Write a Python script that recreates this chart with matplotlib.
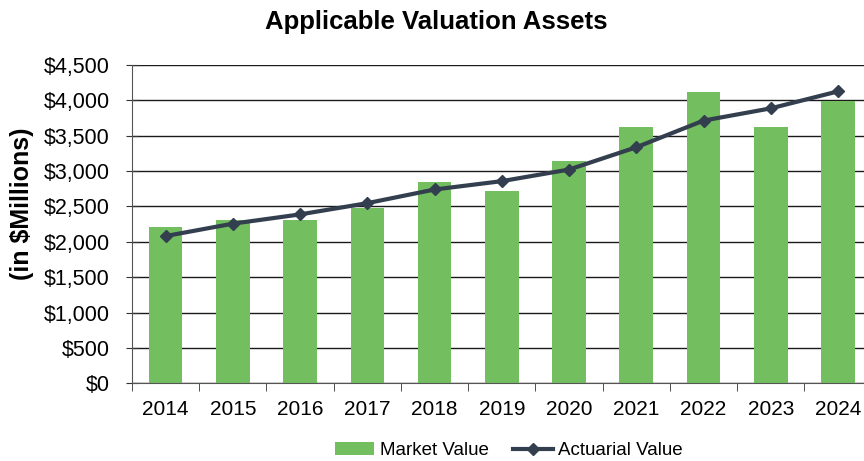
import numpy as np
import matplotlib.pyplot as plt
from matplotlib.ticker import FuncFormatter, FixedLocator

plt.rcParams['font.family'] = ['Liberation Sans', 'DejaVu Sans']

years = ['2014', '2015', '2016', '2017', '2018', '2019', '2020', '2021', '2022', '2023', '2024']
market_value = [2204, 2313, 2313, 2477, 2849, 2712, 3145, 3630, 4113, 3619, 3996]
actuarial_value = [2082, 2257, 2388, 2547, 2740, 2858, 3022, 3337, 3714, 3887, 4127]

fig = plt.figure(figsize=(8.64, 4.61), dpi=100)
ax = fig.add_axes([0.1528, 0.1685, 0.856, 0.6905])

x = np.arange(len(years))
bars = ax.bar(x, market_value, width=0.5, color='#73BE5F', label='Market Value', zorder=2)
line, = ax.plot(x, actuarial_value, color='#333F4F', lw=3, marker='D', markersize=6,
                label='Actuarial Value', zorder=3)

ax.set_xlim(-0.5, len(years) - 0.5)
ax.set_ylim(0, 4500)
ax.set_yticks(np.arange(0, 4501, 500))
ax.yaxis.set_major_formatter(FuncFormatter(lambda v, p: '${:,.0f}'.format(v)))
ax.grid(axis='y', color='#1a1a1a', lw=1, zorder=1)

ax.set_xticks(x)
ax.set_xticklabels(years)
ax.xaxis.set_minor_locator(FixedLocator(np.arange(-0.5, len(years), 1)))
ax.tick_params(axis='x', which='major', length=0, pad=12, labelsize=15)
ax.tick_params(axis='x', which='minor', length=6, color='#333333')
ax.tick_params(axis='y', length=8, direction='inout', labelsize=15.5, pad=12, color='#333333')

for s in ['top', 'right']:
    ax.spines[s].set_visible(False)
ax.spines['left'].set_color('#555555')
ax.spines['bottom'].set_color('#555555')

fig.text(0.026, 0.557, '(in $Millions)', rotation=90, ha='center', va='center',
         fontsize=18, fontweight='bold')
fig.text(0.505, 0.952, 'Applicable Valuation Assets', ha='center', va='center',
         fontsize=18.5, fontweight='bold')

fig.legend([bars, line], ['Market Value', 'Actuarial Value'], loc='center',
           bbox_to_anchor=(0.589, 0.022), ncol=2, frameon=False,
           fontsize=13.5, handlelength=2.1, columnspacing=1.3, handletextpad=0.3)

fig.savefig('out.png', dpi=100)
